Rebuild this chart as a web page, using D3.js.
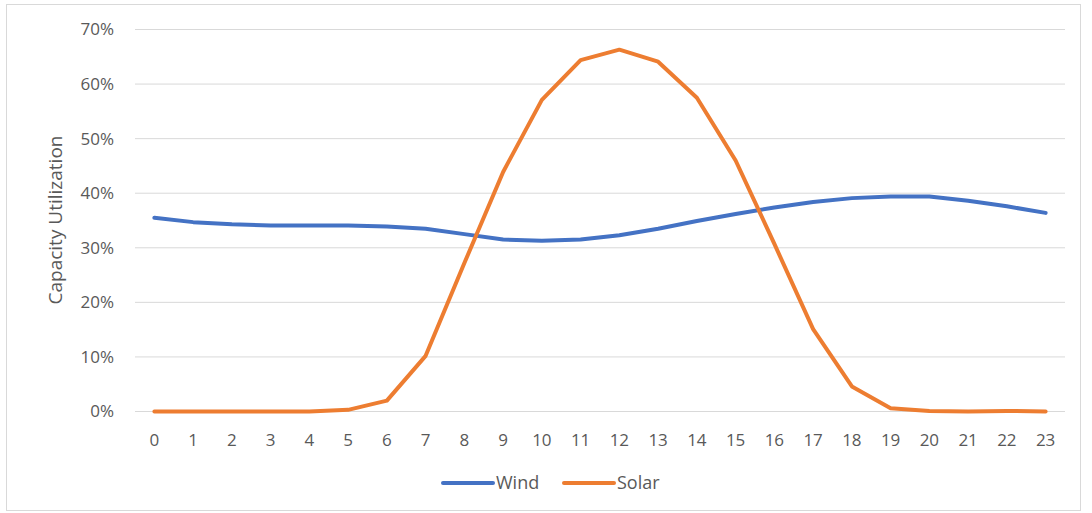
<!DOCTYPE html>
<html>
<head>
<meta charset="utf-8">
<script src="https://cdn.jsdelivr.net/npm/d3@7"></script>
<style>
  body { margin: 0; background: #fff; }
  svg text { font-family: "Open Sans", "Liberation Sans", sans-serif; fill: #595959; }
</style>
</head>
<body>
<svg id="chart" width="1092" height="513"></svg>
<script>
var hours = d3.range(0, 24).map(String);
var wind = [35.5, 34.7, 34.3, 34.1, 34.1, 34.1, 33.9, 33.5, 32.5, 31.5, 31.3, 31.5,
            32.3, 33.5, 34.9, 36.2, 37.4, 38.4, 39.1, 39.4, 39.4, 38.6, 37.6, 36.4];
var solar = [0, 0, 0, 0, 0, 0.3, 2.0, 10.2, 27.2, 43.9, 57.1, 64.4,
             66.3, 64.1, 57.5, 46.0, 30.7, 15.1, 4.6, 0.6, 0.1, 0, 0.1, 0];
var yTicks = [0, 10, 20, 30, 40, 50, 60, 70];
var seriesNames = ["Wind", "Solar"];
var colors = ["#4472C4", "#ED7D31"];

var svg = d3.select("#chart");
var margin = { top: 29.5, right: 27, bottom: 101, left: 135 };
var width = 1092, height = 513;

// outer frame
svg.append("rect")
	.attr("x", 6.5).attr("y", 4.5)
	.attr("width", 1074).attr("height", 506)
	.attr("fill", "none")
	.attr("stroke", "#d9d9d9");

const x = d3.scaleBand()
	.domain(hours)
	.range([margin.left, width - margin.right]);
const y = d3.scaleLinear()
	.domain([0, 70])
	.range([height - margin.bottom - 0.5, margin.top]);

// gridlines
svg.append("g")
	.selectAll("line")
	.data(yTicks)
	.enter()
	.append("line")
	.attr("x1", margin.left)
	.attr("x2", width - margin.right)
	.attr("y1", d => y(d))
	.attr("y2", d => y(d))
	.attr("stroke", "#d9d9d9")
	.attr("stroke-width", 1);

// y labels
svg.append("g")
	.selectAll("text")
	.data(yTicks)
	.enter()
	.append("text")
	.attr("x", 114)
	.attr("y", d => y(d))
	.attr("dy", "0.35em")
	.attr("text-anchor", "end")
	.attr("font-size", "17px")
	.text(d => d + "%");

// x labels
svg.append("g")
	.selectAll("text")
	.data(hours)
	.enter()
	.append("text")
	.attr("x", d => x(d) + x.bandwidth() / 2)
	.attr("y", 440)
	.attr("dy", "0.35em")
	.attr("text-anchor", "middle")
	.attr("font-size", "17px")
	.text(d => d);

// axis title
svg.append("text")
	.attr("transform", "translate(62, 220) rotate(-90)")
	.attr("text-anchor", "middle")
	.attr("font-size", "19px")
	.text("Capacity Utilization");

const line = d3.line()
	.x((d, i) => x(hours[i]) + x.bandwidth() / 2)
	.y(d => y(d));

[wind, solar].forEach((vals, k) => {
	svg.append("path")
		.datum(vals)
		.attr("d", line)
		.attr("fill", "none")
		.attr("stroke", colors[k])
		.attr("stroke-width", 4)
		.attr("stroke-linecap", "round")
		.attr("stroke-linejoin", "round");
});

// legend
var legendX = [443, 564];
seriesNames.forEach((name, k) => {
	svg.append("line")
		.attr("x1", legendX[k]).attr("x2", legendX[k] + 50)
		.attr("y1", 483).attr("y2", 483)
		.attr("stroke", colors[k])
		.attr("stroke-width", 4)
		.attr("stroke-linecap", "round");
	svg.append("text")
		.attr("x", legendX[k] + 53)
		.attr("y", 483)
		.attr("dy", "0.35em")
		.attr("font-size", "18px")
		.text(name);
});
</script>
</body>
</html>
